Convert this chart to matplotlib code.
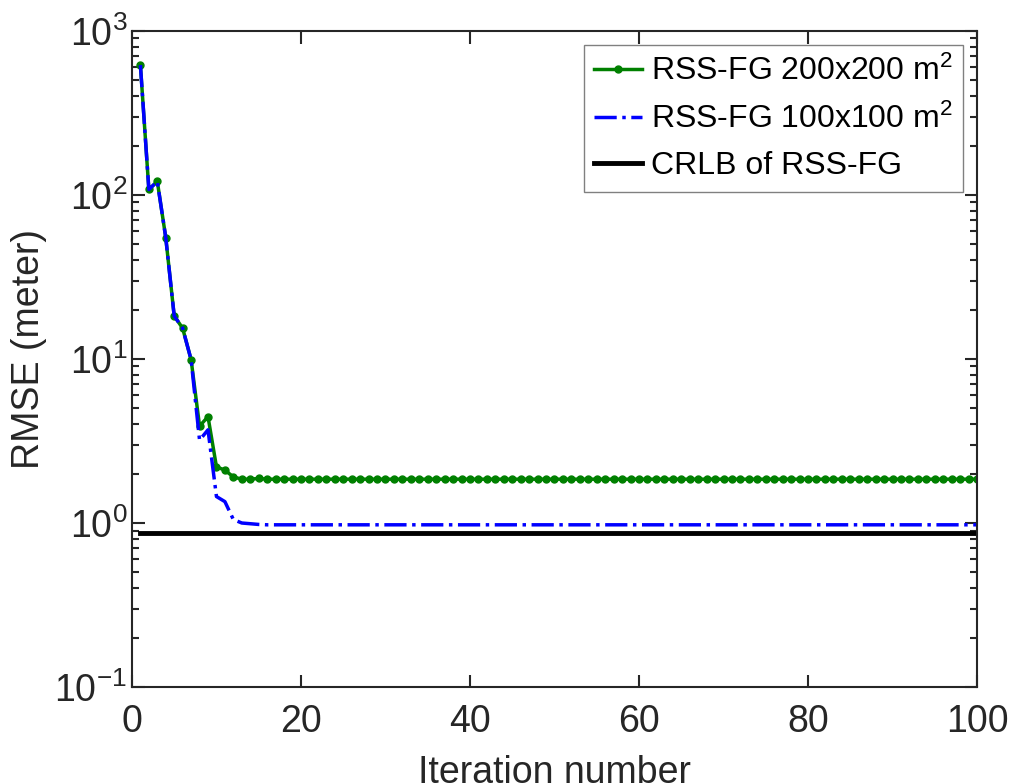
import matplotlib
matplotlib.use("Agg")
import matplotlib.pyplot as plt
from matplotlib.ticker import LogLocator, NullFormatter
import numpy as np

plt.rcParams['font.family'] = ['Liberation Sans', 'DejaVu Sans']
plt.rcParams['mathtext.fontset'] = 'custom'
plt.rcParams['mathtext.rm'] = 'Liberation Sans'
plt.rcParams['mathtext.it'] = 'Liberation Sans'

iterations = np.arange(1, 101)

# RSS-FG over a 200x200 m^2 area
rmse_200 = [620, 108, 121, 55, 18.3, 15.4, 9.9, 3.9, 4.45, 2.2,
            2.1, 1.91, 1.85, 1.85, 1.87] + [1.85] * 85

# RSS-FG over a 100x100 m^2 area
rmse_100 = [620, 108, 121, 55, 18.3, 15.4, 9.9, 3.2, 3.7, 1.45,
            1.35, 1.05, 1.0, 0.99, 0.98] + [0.975] * 85

# CRLB of RSS-FG
crlb = [0.87] * 100

labels = ["RSS-FG 200x200 m$^2$", "RSS-FG 100x100 m$^2$", "CRLB of RSS-FG"]

fig = plt.figure(figsize=(10.15, 7.84), dpi=100)
ax = fig.add_axes([0.130, 0.1237, 0.8326, 0.8368])

ax.plot(iterations, rmse_200, color="#008000", linestyle="-", linewidth=2.5,
        marker=".", markersize=10, label=labels[0])
ax.plot(iterations, rmse_100, color="#0000ff", linestyle="-.", linewidth=2.5,
        label=labels[1])
ax.plot(iterations, crlb, color="black", linestyle="-", linewidth=3.5,
        label=labels[2])

ax.set_yscale("log")
ax.set_xlim(0, 100)
ax.set_ylim(0.1, 1000)
ax.set_xticks([0, 20, 40, 60, 80, 100])
ax.yaxis.set_major_locator(LogLocator(base=10, numticks=10))
ax.yaxis.set_minor_locator(LogLocator(base=10, subs=np.arange(2, 10), numticks=20))
ax.yaxis.set_minor_formatter(NullFormatter())

ax.tick_params(which="both", direction="in", top=True, right=True,
               colors="#262626", labelcolor="#262626", labelsize=27, width=1.5)
ax.tick_params(which="major", length=9)
ax.tick_params(which="minor", length=5)
ax.tick_params(axis="x", pad=12)
ax.tick_params(axis="y", pad=3.5)
for s in ax.spines.values():
    s.set_color("#262626")
    s.set_linewidth(1.5)

# the reference figure cuts the x label at the bottom edge
ax.set_xlabel("Iteration number", fontsize=27, color="#262626", labelpad=11)
ax.set_ylabel("RMSE (meter)", fontsize=27, color="#262626")
ax.yaxis.set_label_coords(-0.1, 0.515)

leg = ax.legend(loc="upper right", bbox_to_anchor=(0.9488, 0.9426),
                bbox_transform=fig.transFigure, fontsize=23, fancybox=False,
                handlelength=1.5, borderpad=0.33, labelspacing=0.52,
                handletextpad=0.27, borderaxespad=0, framealpha=1)
leg.get_frame().set_edgecolor("#808080")
leg.get_frame().set_linewidth(1.0)

fig.savefig("out.png", dpi=100)
